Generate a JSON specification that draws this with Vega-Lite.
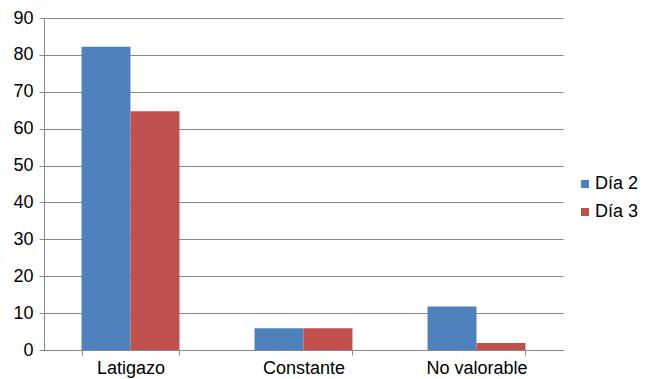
{
  "$schema": "https://vega.github.io/schema/vega-lite/v6.json",
  "width": 519,
  "height": 332,
  "autosize": "none",
  "padding": {"left": 44, "top": 18, "right": 90, "bottom": 29},
  "background": "white",
  "config": {
    "view": {"stroke": null},
    "font": "Liberation Sans"
  },
  "data": {
    "values": [
      {"categoria": "Latigazo", "serie": "Día 2", "valor": 82.2},
      {"categoria": "Latigazo", "serie": "Día 3", "valor": 64.7},
      {"categoria": "Constante", "serie": "Día 2", "valor": 5.9},
      {"categoria": "Constante", "serie": "Día 3", "valor": 5.9},
      {"categoria": "No valorable", "serie": "Día 2", "valor": 11.8},
      {"categoria": "No valorable", "serie": "Día 3", "valor": 1.9}
    ]
  },
  "mark": {"type": "bar"},
  "encoding": {
    "x": {
      "field": "categoria",
      "type": "nominal",
      "sort": ["Latigazo", "Constante", "No valorable"],
      "scale": {"paddingInner": 0.434, "paddingOuter": 0.217},
      "axis": {
        "title": null,
        "labelAngle": 0,
        "labelFontSize": 18,
        "labelColor": "#000000",
        "labelPadding": 4,
        "domainColor": "#888888",
        "tickColor": "#888888",
        "tickBand": "extent",
        "tickSize": 5,
        "grid": false
      }
    },
    "xOffset": {"field": "serie", "type": "nominal", "scale": {"paddingInner": 0, "paddingOuter": 0}},
    "y": {
      "field": "valor",
      "type": "quantitative",
      "scale": {"domain": [0, 90], "nice": false},
      "axis": {
        "title": null,
        "values": [0, 10, 20, 30, 40, 50, 60, 70, 80, 90],
        "labelFontSize": 18,
        "labelColor": "#000000",
        "labelPadding": 6,
        "domainColor": "#888888",
        "tickColor": "#888888",
        "tickSize": 5,
        "grid": true,
        "gridColor": "#888888",
        "gridWidth": 1
      }
    },
    "color": {
      "field": "serie",
      "type": "nominal",
      "scale": {"domain": ["Día 2", "Día 3"], "range": ["#4F81BD", "#C0504D"]},
      "legend": {
        "title": null,
        "orient": "none",
        "legendX": 532,
        "legendY": 157,
        "symbolType": "square",
        "symbolSize": 64,
        "symbolStrokeWidth": 0,
        "labelFontSize": 18,
        "labelColor": "#000000",
        "rowPadding": 10,
        "labelOffset": 1
      }
    }
  }
}
